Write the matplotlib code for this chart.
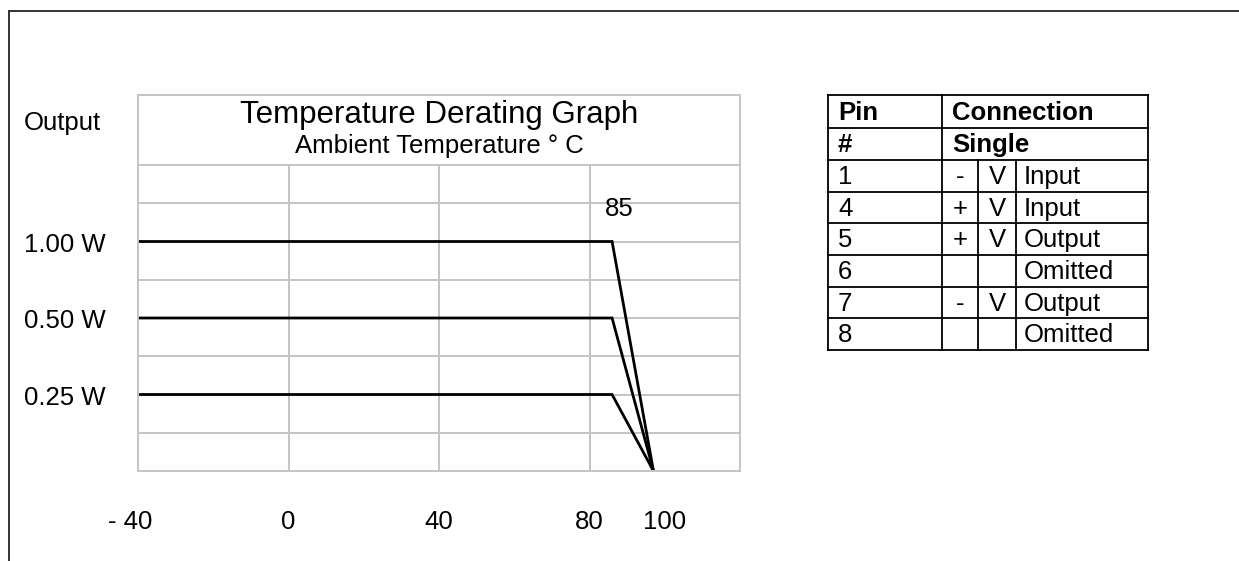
import matplotlib
matplotlib.use('agg')
import matplotlib.pyplot as plt

plt.rcParams['font.family'] = ['Liberation Sans', 'DejaVu Sans']

# derating curves: full power up to the knee, zero at the end
temps = [-40, 86, 97]
output_labels = ["1.00 W", "0.50 W", "0.25 W"]
output_levels = [6, 4, 2]   # grid rows the curves sit on
x_ticks = [-42, 0, 40, 80, 100]
x_tick_labels = ["- 40", "0", "40", "80", "100"]
x_grid = [-40, 0, 40, 80, 120]
n_rows = 8

# pin table
pin_header = [("Pin", "Connection"), ("#", "Single")]
pin_rows = [
    ("1", "-", "V", "Input"),
    ("4", "+", "V", "Input"),
    ("5", "+", "V", "Output"),
    ("6", "", "", "Omitted"),
    ("7", "-", "V", "Output"),
    ("8", "", "", "Omitted"),
]

W, H = 1239, 561
fig = plt.figure(figsize=(W / 100, H / 100), dpi=100)

# page layer in pixel coords (frame + table)
bg = fig.add_axes([0, 0, 1, 1])
bg.set_xlim(0, W)
bg.set_ylim(H, 0)
bg.axis('off')
bg.plot([9, W], [11, 11], color='#333333', lw=1.4)
bg.plot([9, 9], [11, H], color='#333333', lw=1.4)

# table
row_y = [95, 128, 160, 192, 223, 255, 287, 318, 350]
col_x = [828, 942, 978, 1016, 1148]
lw_t = 1.3
for y in row_y:
    bg.plot([col_x[0], col_x[-1]], [y, y], color='black', lw=lw_t)
bg.plot([col_x[0], col_x[0]], [row_y[0], row_y[-1]], color='black', lw=lw_t)
bg.plot([col_x[-1], col_x[-1]], [row_y[0], row_y[-1]], color='black', lw=lw_t)
bg.plot([col_x[1], col_x[1]], [row_y[0], row_y[-1]], color='black', lw=lw_t)
for cx in col_x[2:4]:
    bg.plot([cx, cx], [row_y[2], row_y[-1]], color='black', lw=lw_t)

fs_t = 18.5
for i, (a, b) in enumerate(pin_header):
    yc = (row_y[i] + row_y[i + 1]) / 2 + 1
    bg.text(col_x[0] + 10, yc, a, fontsize=fs_t, fontweight='bold', va='center', ha='left')
    bg.text(col_x[1] + 10, yc, b, fontsize=fs_t, fontweight='bold', va='center', ha='left')
for i, (pin, sign, v, desc) in enumerate(pin_rows):
    yc = (row_y[i + 2] + row_y[i + 3]) / 2 + 1
    bg.text(col_x[0] + 10, yc, pin, fontsize=fs_t, va='center', ha='left')
    bg.text((col_x[1] + col_x[2]) / 2, yc, sign, fontsize=fs_t, va='center', ha='center')
    bg.text((col_x[2] + col_x[3]) / 2, yc, v, fontsize=fs_t, va='center', ha='center')
    bg.text(col_x[3] + 8, yc, desc, fontsize=fs_t, va='center', ha='left')

# graph
left, right, top, bottom = 138, 740, 95, 471
ax = fig.add_axes([left / W, 1 - bottom / H, (right - left) / W, (bottom - top) / H])
ymax = (bottom - top) / ((bottom - 165) / n_rows)
ax.set_xlim(-40, 120)
ax.set_ylim(0, ymax)
ax.set_xticks([])
ax.set_yticks([])
grid_c = '#c4c4c4'
for s in ax.spines.values():
    s.set_color(grid_c)
    s.set_linewidth(1.4)
ax.hlines(range(1, n_rows + 1), -40, 120, color=grid_c, lw=1.4)
ax.vlines(x_grid[1:-1], 0, n_rows, color=grid_c, lw=1.4)

for lvl in output_levels:
    ax.plot(temps, [lvl, lvl, 0], color='black', lw=2.0, solid_joinstyle='miter')

ax.text(0.5, 0.946, "Temperature Derating Graph", transform=ax.transAxes,
        ha='center', va='center', fontsize=22.5)
ax.text(0.5, 0.864, "Ambient Temperature ° C", transform=ax.transAxes,
        ha='center', va='center', fontsize=18.5)
ax.text(87.8, 6.85, "85", ha='center', va='center', fontsize=18.5)

ylab_x = (24 - left) / (right - left)
ax.text(ylab_x, 0.925, "Output", transform=ax.transAxes, ha='left', va='center',
        fontsize=18.5)
for lab, lvl in zip(output_labels, output_levels):
    ax.text(ylab_x, lvl - 0.08, lab, transform=ax.get_yaxis_transform(), ha='left',
            va='center', fontsize=18.5, clip_on=False)
xlab_y = (bottom - 522) / (bottom - top)
for t, lab in zip(x_ticks, x_tick_labels):
    ax.text(t, xlab_y, lab, transform=ax.get_xaxis_transform(), ha='center',
            va='center', fontsize=18.5, clip_on=False)

fig.savefig('out.png', dpi=100, facecolor='white')
